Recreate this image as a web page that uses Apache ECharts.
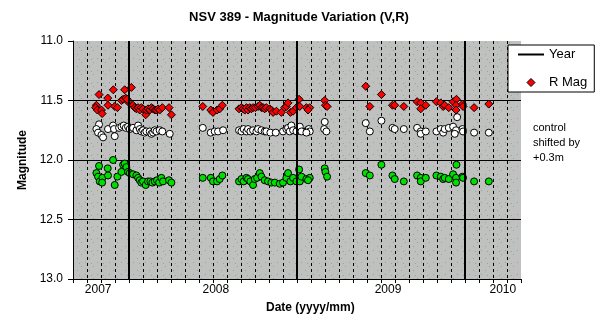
<!DOCTYPE html>
<html><head><meta charset="utf-8">
<script src="https://cdn.jsdelivr.net/npm/echarts@6/dist/echarts.min.js"></script>
<style>html,body{margin:0;padding:0;background:#fff}#c{width:598px;height:325px}</style>
</head><body><div id="c"></div><script>
// x values are months counted from the left edge of the date axis
const yearLines = [4, 16, 28];
const yearLabelPos = [1.8, 10.2, 22.5, 30.7];
const yearLabels = ['2007', '2008', '2009', '2010'];

const rMag = [
 [1.86,11.45],[2.88,11.41],[3.69,11.41],[4.17,11.39],[2.48,11.48],[1.67,11.54],[1.62,11.56],[1.74,11.58],
 [2.03,11.58],[2.08,11.61],[2.50,11.54],[2.98,11.55],[3.17,11.56],[3.46,11.50],[3.58,11.49],[3.77,11.48],
 [3.93,11.51],[3.88,11.49],
 [4.29,11.54],[4.41,11.56],[4.53,11.57],[4.65,11.56],[4.77,11.58],[4.88,11.56],[5.00,11.57],[5.19,11.62],
 [5.24,11.58],[5.36,11.57],[5.48,11.58],[5.60,11.56],[5.72,11.57],[5.84,11.58],[5.96,11.58],[6.08,11.57],
 [6.19,11.58],[6.38,11.56],[6.86,11.56],[7.03,11.62],
 [9.27,11.55],[9.84,11.58],[10.00,11.60],[10.29,11.58],[10.48,11.57],[10.67,11.54],
 [11.86,11.57],[12.03,11.56],[12.15,11.57],[12.27,11.58],[12.39,11.56],[12.50,11.58],[12.62,11.56],[12.74,11.57],
 [12.86,11.56],[13.03,11.56],[13.22,11.55],[13.34,11.54],[13.46,11.56],[13.58,11.56],[13.69,11.57],[13.81,11.56],
 [14.05,11.57],[14.17,11.58],[14.29,11.60],[14.53,11.59],[14.88,11.60],[15.12,11.56],[15.24,11.55],[15.36,11.52],
 [15.53,11.60],[15.72,11.59],
 [16.15,11.49],[15.96,11.56],[16.20,11.55],[16.67,11.56],[16.91,11.56],[16.79,11.58],
 [17.98,11.50],[18.03,11.54],[18.15,11.55],
 [20.91,11.38],[21.20,11.55],[22.03,11.45],[22.82,11.54],[22.98,11.54],[23.63,11.55],
 [24.58,11.51],[24.84,11.52],[24.84,11.57],[25.20,11.54],[25.96,11.51],[26.27,11.52],[26.44,11.55],[26.55,11.54],
 [26.84,11.56],[27.15,11.51],[27.39,11.49],[27.36,11.54],[27.36,11.58],[27.82,11.53],[27.86,11.55],
 [28.65,11.56],[29.70,11.53]
];

const controlShifted = [
 [1.86,11.70],[1.67,11.74],[1.79,11.77],[2.03,11.79],[2.15,11.81],[2.50,11.74],[2.86,11.71],[2.93,11.74],
 [2.98,11.80],[3.29,11.73],[3.46,11.72],[3.62,11.71],[3.77,11.73],[3.93,11.72],[4.05,11.74],
 [4.29,11.73],[4.53,11.75],[4.65,11.71],[4.77,11.74],[4.88,11.76],[5.00,11.75],[5.12,11.77],[5.24,11.76],
 [5.48,11.76],[5.60,11.78],[5.72,11.77],[5.84,11.75],[5.96,11.76],[6.19,11.75],[6.38,11.76],[6.91,11.78],
 [9.27,11.73],[9.84,11.77],[10.12,11.76],[10.36,11.76],[10.72,11.75],
 [11.86,11.75],[12.03,11.76],[12.19,11.74],[12.39,11.76],[12.50,11.74],[12.67,11.76],[12.86,11.75],[13.10,11.76],
 [13.22,11.74],[13.46,11.75],[13.69,11.76],[13.81,11.76],[14.10,11.77],[14.48,11.77],[15.00,11.76],[15.24,11.74],
 [15.36,11.73],[15.48,11.76],[15.60,11.71],[15.72,11.75],
 [15.96,11.76],[16.20,11.72],[16.32,11.76],[16.74,11.75],[16.84,11.74],[16.91,11.76],[16.67,11.77],
 [17.98,11.68],[17.94,11.74],[18.10,11.76],
 [20.91,11.69],[21.20,11.76],[22.03,11.67],[22.82,11.73],[22.98,11.74],[23.63,11.74],
 [24.58,11.73],[24.84,11.76],[24.84,11.78],[25.20,11.76],[25.96,11.76],[26.27,11.74],[26.44,11.77],[26.55,11.74],
 [26.84,11.73],[27.15,11.72],[27.36,11.75],[27.44,11.64],[27.27,11.78],[27.82,11.74],[27.86,11.76],
 [28.65,11.77],[29.70,11.77]
];

const vMag = [
 [1.86,12.05],[2.86,12.00],[2.48,12.07],[1.67,12.11],[1.79,12.14],[1.91,12.18],[2.10,12.15],[2.08,12.19],
 [2.50,12.13],[2.98,12.21],[3.17,12.14],[3.46,12.10],[3.58,12.04],[3.69,12.03],[3.81,12.06],[3.93,12.10],[4.05,12.11],
 [4.29,12.12],[4.53,12.13],[4.65,12.15],[4.77,12.17],[4.88,12.19],[5.00,12.18],[5.19,12.21],[5.36,12.18],
 [5.53,12.18],[5.67,12.19],[5.84,12.18],[6.00,12.17],[6.15,12.19],[6.31,12.15],[6.43,12.18],[6.86,12.17],[7.03,12.19],
 [9.27,12.15],[9.84,12.15],[10.00,12.18],[10.29,12.18],[10.48,12.16],[10.67,12.13],
 [11.86,12.18],[12.03,12.16],[12.19,12.18],[12.39,12.15],[12.50,12.16],[12.67,12.18],[12.86,12.21],[12.98,12.16],
 [13.15,12.15],[13.34,12.11],[13.46,12.14],[13.69,12.17],[13.93,12.18],[14.17,12.19],[14.41,12.19],[14.77,12.20],
 [15.00,12.19],[15.24,12.15],[15.36,12.11],[15.53,12.18],[15.72,12.15],
 [15.96,12.18],[16.15,12.08],[16.20,12.18],[16.32,12.14],[16.67,12.16],[16.91,12.15],[16.79,12.17],
 [17.98,12.07],[18.03,12.10],[18.15,12.14],
 [20.91,12.11],[21.20,12.13],[22.03,12.04],[22.82,12.13],[22.98,12.16],[23.63,12.18],
 [24.58,12.13],[24.84,12.15],[24.84,12.18],[25.20,12.15],[25.96,12.13],[26.27,12.14],[26.44,12.16],[26.55,12.15],
 [26.84,12.16],[27.15,12.12],[27.39,12.04],[27.36,12.15],[27.36,12.19],[27.82,12.14],[27.86,12.15],
 [28.65,12.18],[29.70,12.18]
];

// plot-area texture (grey with sparse green dots)
const pc = document.createElement('canvas');
pc.width = 12; pc.height = 12;
const pctx = pc.getContext('2d');
pctx.fillStyle = '#c0c0c0'; pctx.fillRect(0, 0, 12, 12);
pctx.fillStyle = '#7ab87a';
[[1,10],[5,6],[9,2],[7,11]].forEach(p => pctx.fillRect(p[0], p[1], 1, 1));

const FONT = 'Liberation Sans, Arial, sans-serif';
const chart = echarts.init(document.getElementById('c'), null, {renderer: 'canvas'});
chart.setOption({
  animation: false,
  textStyle: {fontFamily: FONT, color: '#000'},
  title: {
    text: 'NSV 389 - Magnitude Variation (V,R)', left: 'center', top: 11, padding: 0,
    textStyle: {fontFamily: FONT, fontSize: 13, fontWeight: 'bold', color: '#000'}
  },
  legend: {
    orient: 'vertical', left: 508, top: 45,
    symbolKeepAspect: true,
    data: [
      {name: 'Year', icon: 'path://M0,0L26,0L26,2L0,2Z', itemStyle: {color: '#000', borderWidth: 0}},
      {name: 'R Mag', icon: 'path://M4,0L8,4L4,8L0,4Z', itemStyle: {color: '#ff0000', borderColor: '#000', borderWidth: 1}}
    ],
    itemWidth: 26, itemHeight: 8, itemGap: 15,
    padding: [3, 7, 3, 10],
    borderColor: '#000', borderWidth: 1, backgroundColor: '#fff', borderRadius: 0,
    textStyle: {fontFamily: FONT, fontSize: 13, color: '#000'}
  },
  grid: {left: 73, right: 77, top: 41, bottom: 46, show: true, borderWidth: 0,
         backgroundColor: {image: pc, repeat: 'repeat'}, outerBoundsMode: 'none'},
  xAxis: [{
    type: 'value', min: 0, max: 32, interval: 1,
    axisLine: {show: true, onZero: false, lineStyle: {color: '#000', width: 1}},
    axisTick: {show: true, inside: false, length: 4, lineStyle: {color: '#000'}},
    axisLabel: {show: false},
    splitLine: {show: true, showMinLine: false, showMaxLine: false,
                lineStyle: {color: '#000', type: [3, 3], width: 1}}
  }, {
    type: 'value', min: 0, max: 32, interval: 0.1, position: 'bottom',
    axisLine: {show: false}, axisTick: {show: false}, splitLine: {show: false},
    axisLabel: {
      show: true, margin: 5, fontSize: 12, color: '#000', fontFamily: FONT,
      formatter: v => {
        const i = yearLabelPos.findIndex(p => Math.abs(p - v) < 0.001);
        return i >= 0 ? yearLabels[i] : '';
      }
    }
  }],
  yAxis: {
    type: 'value', inverse: true, min: 11, max: 13, interval: 0.5,
    name: 'Magnitude', nameLocation: 'middle', nameGap: 44, nameRotate: 90,
    nameTextStyle: {fontFamily: FONT, fontSize: 12, fontWeight: 'bold', color: '#000'},
    axisLine: {show: true, onZero: false, lineStyle: {color: '#000', width: 1}},
    axisTick: {show: true, inside: false, length: 5, lineStyle: {color: '#000'}},
    axisLabel: {fontSize: 12, color: '#000', margin: 10, formatter: v => v.toFixed(1)},
    splitLine: {show: true, showMinLine: false, showMaxLine: false,
                lineStyle: {color: '#000', type: 'solid', width: 1}}
  },
  graphic: [
    {type: 'text', left: 266, top: 302, style: {text: 'Date (yyyy/mm)', fontFamily: FONT, fontSize: 12, fontWeight: 'bold', fill: '#000'}},
    {type: 'text', left: 533, top: 120, style: {text: 'control\nshifted by\n+0.3m', fontFamily: FONT, fontSize: 11, lineHeight: 15, fill: '#000'}}
  ],
  series: [
    {
      name: 'Year', type: 'line', data: [], symbol: 'none', xAxisIndex: 0,
      lineStyle: {color: '#000', width: 2}, itemStyle: {color: '#000'},
      markLine: {
        silent: true, symbol: 'none', label: {show: false},
        lineStyle: {color: '#000', width: 2, type: 'solid'},
        data: yearLines.map(x => ({xAxis: x}))
      }
    },
    {
      name: 'Control', type: 'scatter', data: controlShifted, xAxisIndex: 0,
      symbol: 'circle', symbolSize: 7,
      itemStyle: {color: '#ffffff', borderColor: '#000', borderWidth: 1, opacity: 1}
    },
    {
      name: 'V Mag', type: 'scatter', data: vMag, xAxisIndex: 0,
      symbol: 'circle', symbolSize: 7,
      itemStyle: {color: '#00e000', borderColor: '#000', borderWidth: 1, opacity: 1}
    },
    {
      name: 'R Mag', type: 'scatter', data: rMag, xAxisIndex: 0,
      symbol: 'diamond', symbolSize: 8,
      itemStyle: {color: '#ff0000', borderColor: '#000', borderWidth: 1, opacity: 1}
    }
  ]
});
</script></body></html>
